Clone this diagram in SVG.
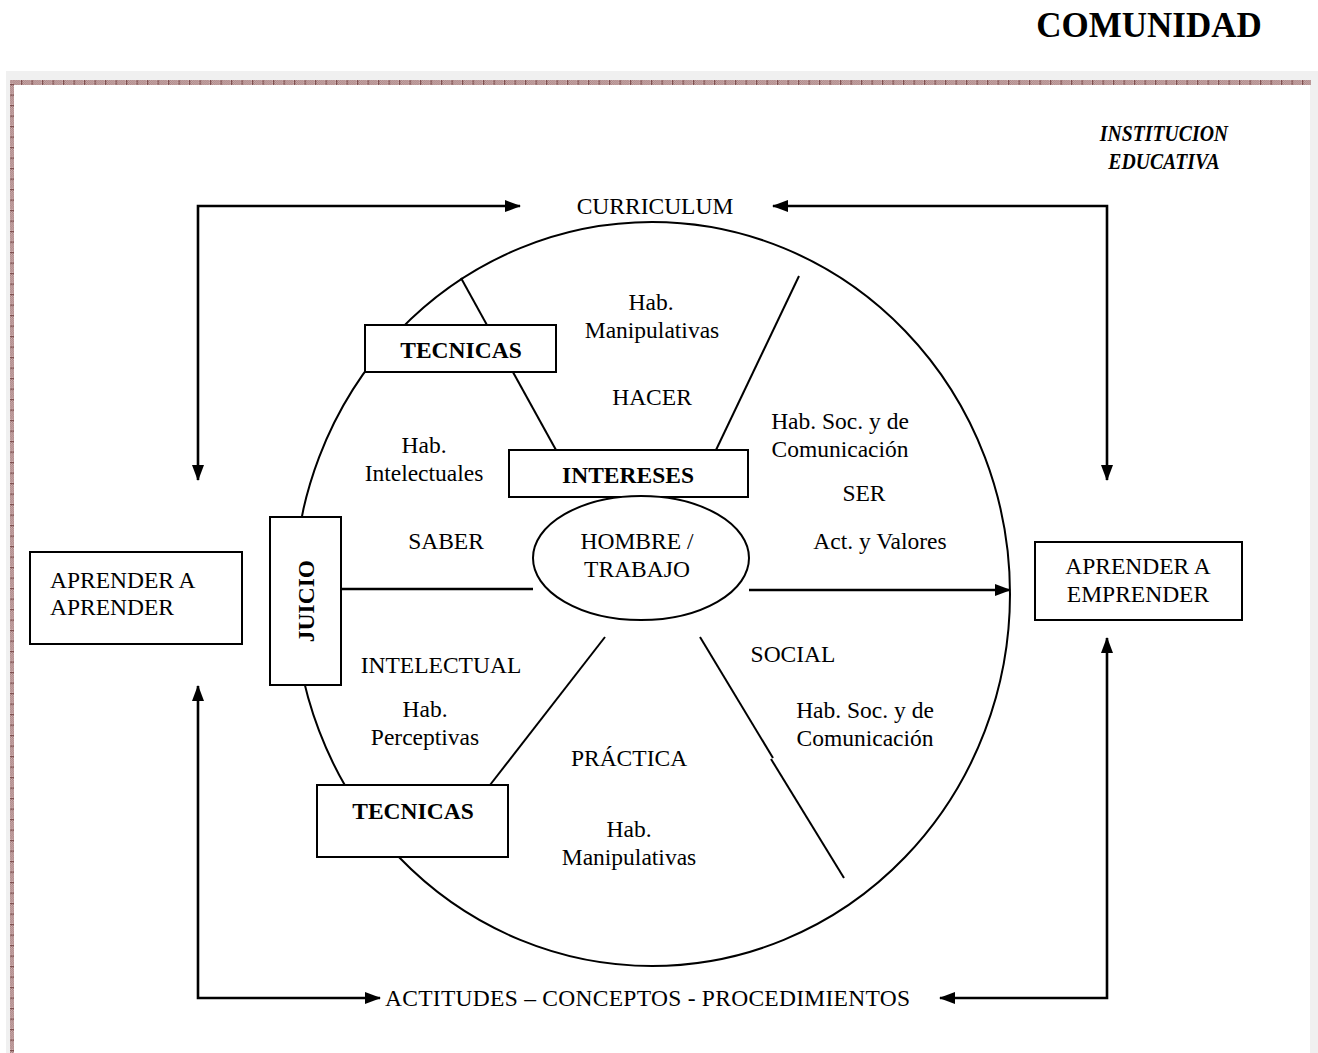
<svg xmlns="http://www.w3.org/2000/svg" width="1318" height="1053" viewBox="0 0 1318 1053">
<style>
text{font-family:"Liberation Serif","Times New Roman",serif;font-size:23.5px;fill:#000;text-anchor:middle}
.b{font-weight:bold}
.l{text-anchor:start}
.box{fill:#fff;stroke:#000;stroke-width:2}
.ln{fill:none;stroke:#000;stroke-width:2}
.ar{fill:none;stroke:#000;stroke-width:2.6}
</style>
<defs>
<pattern id="brd" width="10.5" height="5" patternUnits="userSpaceOnUse">
<rect width="10.5" height="5" fill="#cfb2b2"/>
<path d="M0,0h1v1h-1zM2,0h1v1h-1zM4,0h1v1h-1zM6,0h1v1h-1zM8,0h1v1h-1zM1,1h1v1h-1zM3,1h1v1h-1zM5,1h1v1h-1zM7,1h1v1h-1zM9,1h1v1h-1zM0,2h1v1h-1zM2,2h1v1h-1zM4,2h1v1h-1zM6,2h1v1h-1zM8,2h1v1h-1zM1,3h1v1h-1zM3,3h1v1h-1zM5,3h1v1h-1zM7,3h1v1h-1zM9,3h1v1h-1zM0,4h1v1h-1zM2,4h1v1h-1zM4,4h1v1h-1zM6,4h1v1h-1zM8,4h1v1h-1z" fill="#a77f7f"/>
<rect x="0" y="0" width="1.2" height="5" fill="#7e4f4f"/>
</pattern>
<pattern id="brdv" width="4" height="10.5" patternUnits="userSpaceOnUse">
<rect width="4" height="10.5" fill="#cfb2b2"/>
<path d="M0,0h1v1h-1zM2,0h1v1h-1zM1,1h1v1h-1zM3,1h1v1h-1zM0,2h1v1h-1zM2,2h1v1h-1zM1,3h1v1h-1zM3,3h1v1h-1zM0,4h1v1h-1zM2,4h1v1h-1zM1,5h1v1h-1zM3,5h1v1h-1zM0,6h1v1h-1zM2,6h1v1h-1zM1,7h1v1h-1zM3,7h1v1h-1zM0,8h1v1h-1zM2,8h1v1h-1zM1,9h1v1h-1zM3,9h1v1h-1z" fill="#a77f7f"/>
<rect x="0" y="0" width="4" height="1.2" fill="#7e4f4f"/>
</pattern>
<marker id="ah" markerWidth="16" markerHeight="12" refX="15" refY="6" orient="auto-start-reverse" markerUnits="userSpaceOnUse">
<path d="M0,0 L16,6 L0,12 Z" fill="#000"/>
</marker>
</defs>
<rect width="1318" height="1053" fill="#fff"/>
<g id="frame">
<rect x="6" y="71" width="1312" height="982" fill="#f0f0f0"/>
<rect x="14" y="85" width="1296" height="968" fill="#fff"/>
<rect x="10" y="80" width="1301" height="5" fill="url(#brd)"/>
<rect x="10" y="80" width="4" height="973" fill="url(#brdv)"/>
</g>
<g id="title"><text class="b" x="1149" y="37" style="font-size:35px">COMUNIDAD</text></g>
<g id="institucion">
<text class="b" transform="translate(1164,141) scale(0.84,1)" style="font-style:italic">INSTITUCION</text>
<text class="b" transform="translate(1164,169) scale(0.84,1)" style="font-style:italic">EDUCATIVA</text>
</g>
<g id="circle">
<ellipse cx="652" cy="594" rx="358" ry="372" class="ln"/>
<line x1="340" y1="749" x2="346" y2="757" stroke="#fff" stroke-width="4"/>
</g>
<g id="connectors">
<line x1="461" y1="278" x2="556" y2="450" class="ln"/>
<line x1="799" y1="276" x2="716" y2="450" class="ln"/>
<line x1="605" y1="637" x2="490" y2="785" class="ln"/>
<line x1="700" y1="637" x2="773" y2="758" class="ln"/>
<line x1="771" y1="759" x2="844" y2="878" class="ln"/>
<line x1="341" y1="589" x2="533" y2="589" class="ar"/>
<line x1="749" y1="590" x2="1010" y2="590" class="ar" marker-end="url(#ah)"/>
<polyline points="198,480 198,206 520,206" class="ar" marker-start="url(#ah)" marker-end="url(#ah)"/>
<polyline points="773,206 1107,206 1107,480" class="ar" marker-start="url(#ah)" marker-end="url(#ah)"/>
<polyline points="198,686 198,998 380,998" class="ar" marker-start="url(#ah)" marker-end="url(#ah)"/>
<polyline points="940,998 1107,998 1107,638" class="ar" marker-start="url(#ah)" marker-end="url(#ah)"/>
</g>
<g id="tecnicas-top"><rect x="365" y="325" width="191" height="47" class="box"/><text class="b" x="461" y="358">TECNICAS</text></g>
<g id="intereses"><rect x="509" y="450" width="239" height="47" class="box"/><text class="b" x="628" y="483">INTERESES</text></g>
<g id="juicio"><rect x="270" y="517" width="71" height="168" class="box"/><text class="b" transform="translate(314,601) rotate(-90)" x="0" y="0">JUICIO</text></g>
<g id="tecnicas-bottom"><rect x="317" y="785" width="191" height="72" class="box"/><text class="b" x="413" y="819">TECNICAS</text></g>
<g id="hombre"><ellipse cx="641" cy="558" rx="108" ry="62" fill="#fff" stroke="#000" stroke-width="2"/><text x="637" y="549">HOMBRE /</text><text x="637" y="577">TRABAJO</text></g>
<g id="aprender-aprender"><rect x="30" y="552" width="212" height="92" class="box"/><text class="l" x="50" y="588">APRENDER A</text><text class="l" x="50" y="615">APRENDER</text></g>
<g id="aprender-emprender"><rect x="1035" y="542" width="207" height="78" class="box"/><text x="1138" y="574">APRENDER A</text><text x="1138" y="602">EMPRENDER</text></g>
<g id="curriculum"><text x="655" y="214">CURRICULUM</text></g>
<g id="acp"><text class="l" x="385" y="1006" textLength="525" lengthAdjust="spacing">ACTITUDES – CONCEPTOS - PROCEDIMIENTOS</text></g>
<g id="labels">
<text x="651" y="310">Hab.</text><text x="652" y="338">Manipulativas</text>
<text x="652" y="405">HACER</text>
<text x="840" y="429">Hab. Soc. y de</text><text x="840" y="457">Comunicación</text>
<text x="864" y="501">SER</text>
<text x="880" y="549">Act. y Valores</text>
<text x="424" y="453">Hab.</text><text x="424" y="481">Intelectuales</text>
<text x="446" y="549">SABER</text>
<text x="441" y="673">INTELECTUAL</text>
<text x="793" y="662">SOCIAL</text>
<text x="865" y="718">Hab. Soc. y de</text><text x="865" y="746">Comunicación</text>
<text x="425" y="717">Hab.</text><text x="425" y="745">Perceptivas</text>
<text x="629" y="766">PRÁCTICA</text>
<text x="629" y="837">Hab.</text><text x="629" y="865">Manipulativas</text>
</g>
</svg>
